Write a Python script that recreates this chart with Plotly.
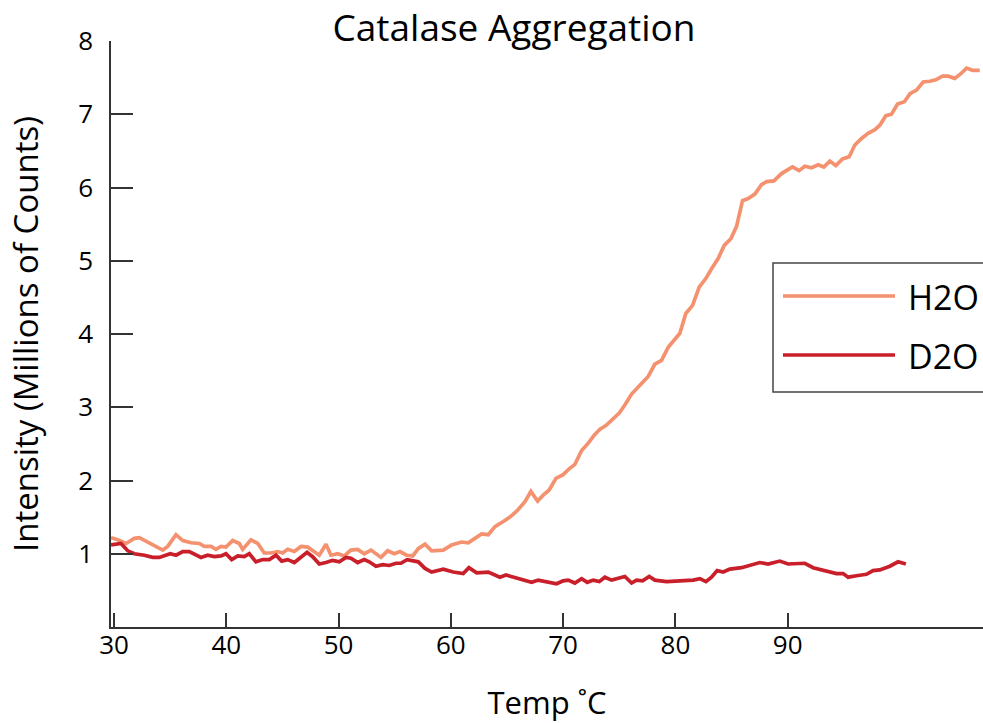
import plotly.graph_objects as go

# ---- data ----
h2o_temp = [29.73, 30.33, 31.07, 31.81, 32.25, 33.0, 33.74, 34.34, 34.78, 35.52, 36.12, 36.86, 37.6,
            38.04, 38.64, 39.08, 39.53, 39.97, 40.57, 41.16, 41.46, 42.2, 42.8, 43.38, 43.98, 44.58,
            45.02, 45.47, 46.06, 46.65, 47.25, 47.84, 48.28, 48.88, 49.32, 49.92, 50.51, 51.1, 51.7,
            52.29, 52.89, 53.78, 54.37, 54.96, 55.47, 56.06, 56.6, 57.1, 57.7, 58.29, 59.33, 60.07,
            60.96, 61.55, 62.15, 62.74, 63.33, 63.93, 64.67, 65.26, 65.86, 66.6, 67.13, 67.73, 68.23,
            68.76, 69.36, 70.0, 70.54, 71.05, 71.65, 72.24, 72.77, 73.28, 73.81, 74.32, 75.0, 75.5,
            76.1, 76.84, 77.58, 78.17, 78.77, 79.36, 80.4, 80.93, 81.53, 82.12, 82.72, 83.22, 83.81,
            84.35, 84.94, 85.45, 85.98, 86.48, 87.08, 87.67, 88.12, 88.77, 89.45, 90.43, 91.02, 91.53,
            92.13, 92.72, 93.22, 93.76, 94.29, 94.89, 95.48, 95.98, 96.58, 97.17, 97.77, 98.21, 98.75,
            99.25, 99.79, 100.4, 100.9, 101.48, 102.07, 102.66, 103.2, 103.79, 104.29, 104.89, 105.4,
            105.93, 106.47, 107.11]
h2o_int = [1.22, 1.19, 1.14, 1.21, 1.22, 1.16, 1.09, 1.05, 1.10, 1.26, 1.18, 1.15, 1.14,
           1.10, 1.10, 1.06, 1.10, 1.09, 1.18, 1.14, 1.06, 1.19, 1.14, 1.01, 1.01, 1.03,
           1.01, 1.06, 1.03, 1.10, 1.09, 1.03, 0.98, 1.13, 0.98, 1.00, 0.97, 1.05, 1.06,
           1.00, 1.05, 0.95, 1.04, 1.00, 1.03, 0.98, 0.97, 1.07, 1.13, 1.04, 1.05, 1.12,
           1.16, 1.15, 1.21, 1.27, 1.26, 1.37, 1.44, 1.50, 1.58, 1.71, 1.85, 1.72, 1.80,
           1.87, 2.03, 2.08, 2.16, 2.22, 2.41, 2.51, 2.62, 2.70, 2.75, 2.83, 2.92, 3.03,
           3.18, 3.30, 3.42, 3.59, 3.64, 3.82, 4.01, 4.28, 4.39, 4.64, 4.76, 4.89, 5.03,
           5.21, 5.30, 5.47, 5.82, 5.85, 5.91, 6.04, 6.08, 6.09, 6.19, 6.28, 6.23, 6.29,
           6.27, 6.31, 6.28, 6.36, 6.30, 6.39, 6.42, 6.58, 6.67, 6.74, 6.79, 6.85, 6.98,
           7.00, 7.14, 7.17, 7.28, 7.33, 7.44, 7.45, 7.47, 7.52, 7.52, 7.49, 7.55,
           7.63, 7.60, 7.60]

d2o_temp = [29.73, 30.18, 30.62, 31.22, 31.81, 32.7, 33.45, 34.03, 34.48, 35.01, 35.52, 36.12, 36.7,
            37.3, 37.75, 38.34, 38.93, 39.53, 39.97, 40.48, 41.02, 41.6, 42.05, 42.64, 43.24, 43.83,
            44.43, 44.93, 45.47, 46.06, 46.65, 47.19, 47.69, 48.28, 48.88, 49.47, 50.06, 50.66, 51.1,
            51.7, 52.29, 52.73, 53.33, 53.93, 54.51, 55.11, 55.55, 56.1, 57.1, 57.7, 58.29, 59.33,
            60.21, 61.1, 61.61, 62.3, 63.33, 64.37, 64.91, 66.0, 67.2, 67.78, 69.42, 70.0, 70.45,
            71.05, 71.65, 72.15, 72.68, 73.22, 73.72, 74.32, 74.91, 75.5, 76.1, 76.54, 77.08, 77.67,
            78.17, 79.22, 80.4, 81.59, 82.18, 82.72, 83.22, 83.72, 84.26, 84.85, 85.89, 86.78, 87.52,
            88.26, 89.3, 90.04, 90.79, 91.53, 92.27, 93.46, 94.35, 94.94, 95.39, 96.13, 97.02, 97.61,
            98.21, 99.1, 99.84, 100.53]
d2o_int = [1.12, 1.13, 1.14, 1.04, 1.00, 0.98, 0.95, 0.95, 0.97, 1.00, 0.98, 1.03, 1.03,
           0.99, 0.95, 0.98, 0.96, 0.97, 1.00, 0.92, 0.97, 0.96, 1.00, 0.89, 0.92, 0.92,
           0.98, 0.90, 0.92, 0.88, 0.96, 1.02, 0.96, 0.86, 0.88, 0.91, 0.89, 0.95, 0.94,
           0.88, 0.92, 0.89, 0.83, 0.85, 0.84, 0.87, 0.87, 0.92, 0.89, 0.80, 0.75, 0.79,
           0.75, 0.73, 0.81, 0.74, 0.75, 0.68, 0.71, 0.66, 0.61, 0.64, 0.59, 0.63, 0.64,
           0.60, 0.66, 0.61, 0.64, 0.62, 0.68, 0.64, 0.66, 0.69, 0.60, 0.64, 0.63, 0.69,
           0.64, 0.62, 0.63, 0.64, 0.66, 0.62, 0.68, 0.77, 0.75, 0.79, 0.81, 0.85, 0.88,
           0.86, 0.90, 0.86, 0.86, 0.87, 0.81, 0.77, 0.73, 0.73, 0.68, 0.70, 0.72, 0.77,
           0.78, 0.83, 0.89, 0.86]

series_names = ["H2O", "D2O"]
series_colors = ["#f4916f", "#c91f2a"]
x_tickvals = [30, 40, 50, 60, 70, 80, 90]
y_tickvals = [1, 2, 3, 4, 5, 6, 7, 8]

FONT = "Open Sans"
TXT = "#000000"
W, H = 983, 723
ML, MR, MT, MB = 111, 0, 41, 96
PW, PH = W - ML - MR, H - MT - MB

def px(xp):
    return (xp - ML) / PW

def py(yp):
    return (H - MB - yp) / PH

fig = go.Figure()
fig.add_trace(go.Scatter(x=h2o_temp, y=h2o_int, mode="lines", name=series_names[0],
                         line=dict(color=series_colors[0], width=3.7), showlegend=False))
fig.add_trace(go.Scatter(x=d2o_temp, y=d2o_int, mode="lines", name=series_names[1],
                         line=dict(color=series_colors[1], width=3.7), showlegend=False))

# legend drawn as a box with sample lines and labels
shapes = [dict(type="rect", xref="paper", yref="paper", x0=px(773), x1=px(1010), y0=py(392), y1=py(263),
               line=dict(color="#444444", width=1.5), fillcolor="white", layer="above")]
annotations = []
for i, (nm, col) in enumerate(zip(series_names, series_colors)):
    yy = [296, 355][i]
    shapes.append(dict(type="line", xref="paper", yref="paper", x0=px(783), x1=px(895), y0=py(yy), y1=py(yy),
                       line=dict(color=col, width=3.7), layer="above"))
    annotations.append(dict(text=nm, xref="paper", yref="paper", x=px(906), y=py(yy + 1), xanchor="left",
                            yanchor="middle", showarrow=False, font=dict(family=FONT, size=34, color=TXT)))

fig.update_layout(
    width=W, height=H,
    margin=dict(l=ML, r=MR, t=MT, b=MB, pad=0),
    paper_bgcolor="white", plot_bgcolor="white",
    title=dict(text="Catalase Aggregation", xref="container", yref="container", x=514 / W, y=1 - 28 / H,
               xanchor="center", yanchor="middle", font=dict(family=FONT, size=37, color=TXT)),
    shapes=shapes, annotations=annotations,
    xaxis=dict(range=[29.73, 107.4], tickvals=x_tickvals, ticks="inside", ticklen=14, tickwidth=1.5,
               tickcolor="#333333", showline=True, linecolor="#333333", linewidth=1.5, showgrid=False,
               zeroline=False, ticklabelstandoff=-6,
               tickfont=dict(family=FONT, size=26, color=TXT),
               title=dict(text="Temp ˚C", standoff=39, font=dict(family=FONT, size=31, color=TXT))),
    yaxis=dict(range=[0, 8], tickvals=y_tickvals, ticks="inside", ticklen=22, tickwidth=1.5,
               tickcolor="#333333", showline=True, linecolor="#333333", linewidth=1.5, showgrid=False,
               zeroline=False, ticklabelstandoff=11,
               tickfont=dict(family=FONT, size=26, color=TXT),
               title=dict(text="Intensity (Millions of Counts)", standoff=30,
                          font=dict(family=FONT, size=33, color=TXT))),
)

fig.write_html("out.html")
